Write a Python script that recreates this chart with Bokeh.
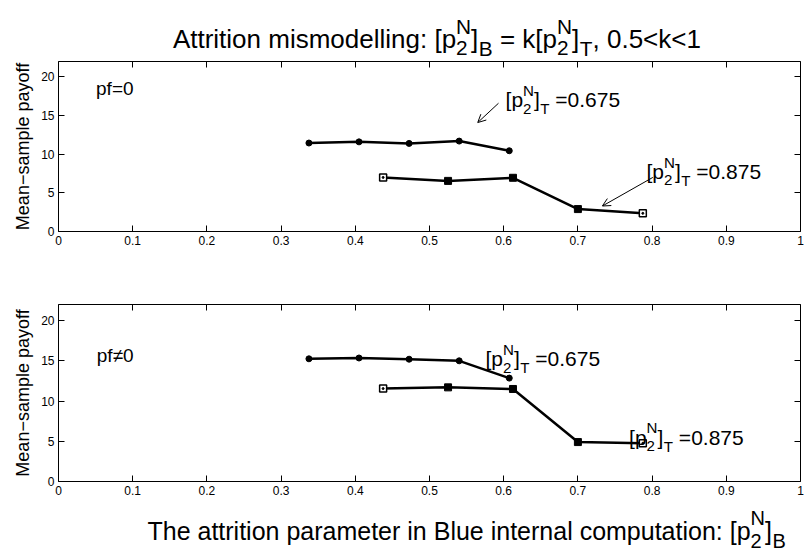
from bokeh.plotting import figure
from bokeh.layouts import column
from bokeh.models import Label, Arrow, OpenHead, LinearAxis, Range1d, FixedTicker
from bokeh.embed import file_html
from bokeh.resources import INLINE

# ---------------- data ----------------
x_ticks = [0, 0.1, 0.2, 0.3, 0.4, 0.5, 0.6, 0.7, 0.8, 0.9, 1.0]
x_tick_labels = ["0", "0.1", "0.2", "0.3", "0.4", "0.5", "0.6", "0.7", "0.8", "0.9", "1"]
y_ticks = [0, 5, 10, 15, 20]
y_tick_labels = ["0", "5", "10", "15", "20"]

# [p2N]_B values for the two true attrition parameters
x_b_675 = [0.3375, 0.405, 0.4725, 0.54, 0.6075]
x_b_875 = [0.4375, 0.525, 0.6125, 0.7, 0.7875]

# mean-sample payoff, pf = 0
payoff_pf0_675 = [11.45, 11.6, 11.4, 11.7, 10.45]
payoff_pf0_875 = [7.0, 6.55, 6.95, 2.9, 2.35]
# mean-sample payoff, pf != 0
payoff_pfn0_675 = [15.25, 15.35, 15.2, 15.0, 12.85]
payoff_pfn0_875 = [11.55, 11.7, 11.5, 4.9, 4.75]

FONT = "Liberation Sans"

# Arial / Liberation Sans advance widths (1/1000 em)
W = {' ': 278, 'A': 667, 'B': 667, 'N': 722, 'T': 611, 'M': 833,
     'a': 556, 'b': 556, 'c': 500, 'd': 556, 'e': 556, 'f': 278, 'g': 556,
     'h': 556, 'i': 222, 'k': 500, 'l': 222, 'm': 833, 'n': 556, 'o': 556,
     'p': 556, 'r': 333, 's': 500, 't': 278, 'u': 556, 'y': 500,
     '.': 278, ',': 278, ':': 278, '[': 278, ']': 278, '=': 584, '<': 584,
     '\u2260': 549, '\u2212': 584}


def tw(s, size):
    return sum(W.get(c, 556) for c in s) / 1000.0 * size


def rich(p, x, y, parts, size, ss=0.72, center=False, sup=0.45, sub=0.42):
    """Place a text with sub/superscripts from pieces, anchored at data (x, y)."""
    small = size * ss
    items = []
    ox = 0.0
    for kind, txt in parts:
        if kind == "n":
            lead = len(txt) - len(txt.lstrip(" "))
            ox += tw(" " * lead, size)
            body = txt.strip(" ")
            items.append((body, size, ox, 0.0))
            ox += tw(body, size)
        elif kind == "sub":
            items.append((txt, small, ox + 0.02 * size, -sub * size))
            ox += tw(txt, small) + 0.02 * size
        elif kind == "ss":
            a, b = txt
            items.append((a, small, ox, sup * size))
            items.append((b, small, ox, -sub * size))
            ox += max(tw(a, small), tw(b, small))
    shift = -ox / 2.0 if center else 0.0
    for txt, sz, dx, dy in items:
        p.add_layout(Label(x=x, y=y, x_offset=dx + shift, y_offset=dy, text=txt,
                           text_font=FONT, text_font_size=f"{sz:.1f}px",
                           text_color="black", text_align="left",
                           text_baseline="alphabetic"))


def text_fig(h):
    p = figure(frame_width=742, frame_height=h, x_range=Range1d(0, 1), y_range=Range1d(0, h),
               output_backend="svg", toolbar_location=None,
               x_axis_location=None, y_axis_location=None,
               min_border_left=58, min_border_right=4, min_border_top=0, min_border_bottom=0)
    p.xgrid.visible = False
    p.ygrid.visible = False
    p.outline_line_color = None
    return p


def make_fig(top, bottom, frame_h):
    p = figure(frame_width=742, frame_height=frame_h,
               x_range=Range1d(0, 1), y_range=Range1d(0, 22),
               output_backend="svg", toolbar_location=None,
               min_border_left=58, min_border_right=4,
               min_border_top=top, min_border_bottom=bottom,
               background_fill_color="white", border_fill_color="white")
    p.xgrid.visible = False
    p.ygrid.visible = False
    p.outline_line_color = None
    p.add_layout(LinearAxis(), "right")
    p.add_layout(LinearAxis(), "above")
    for ax in p.xaxis:
        ax.ticker = FixedTicker(ticks=x_ticks)
        ax.major_label_overrides = dict(zip(x_ticks, x_tick_labels))
    for ax in p.yaxis:
        ax.ticker = FixedTicker(ticks=y_ticks)
        ax.major_label_overrides = dict(zip(y_ticks, y_tick_labels))
    for ax in p.axis:
        ax.axis_line_color = "black"
        ax.axis_line_width = 1
        ax.major_tick_in = 6
        ax.major_tick_out = 0
        ax.major_tick_line_color = "black"
        ax.minor_tick_line_color = None
        ax.major_label_text_font = FONT
        ax.major_label_text_font_size = "12px"
        ax.major_label_text_color = "black"
        ax.major_label_standoff = 4
    p.right[0].major_label_overrides = {t: "" for t in y_ticks}
    p.above[0].major_label_overrides = {t: "" for t in x_ticks}
    p.right[0].major_label_standoff = 0
    p.above[0].major_label_standoff = 0
    p.yaxis[0].axis_label = "Mean\u2212sample payoff"
    p.yaxis[0].axis_label_text_font = FONT
    p.yaxis[0].axis_label_text_font_size = "18px"
    p.yaxis[0].axis_label_text_font_style = "normal"
    p.yaxis[0].axis_label_text_color = "black"
    p.yaxis[0].axis_label_standoff = 5
    return p


def draw_series(p, xs, ys, marker):
    p.line(xs, ys, line_color="black", line_width=2.5)
    if marker == "circle":
        p.scatter(xs, ys, marker="circle", size=6, fill_color="black", line_color="black")
    else:
        p.scatter(xs[1:-1], ys[1:-1], marker="square", size=7, fill_color="black", line_color="black")
        ends_x = [xs[0], xs[-1]]
        ends_y = [ys[0], ys[-1]]
        p.scatter(ends_x, ends_y, marker="square", size=7, fill_color="white",
                  line_color="black", line_width=1.5)
        p.scatter(ends_x, ends_y, marker="circle", size=2, fill_color="black", line_color="black")


def label_pT(p, x, y, val):
    rich(p, x, y, [("n", "[p"), ("ss", ("N", "2")), ("n", "]"), ("sub", "T"),
                   ("n", " =" + val)], 21)


# ---------------- title strip ----------------
title_fig = text_fig(60)
rich(title_fig, 0.51, 21.5,
     [("n", "Attrition mismodelling: [p"), ("ss", ("N", "2")), ("n", "]"), ("sub", "B"),
      ("n", " = k[p"), ("ss", ("N", "2")), ("n", "]"), ("sub", "T"), ("n", ", 0.5<k<1")],
     26, ss=0.8, center=True, sup=0.5, sub=0.36)

# ---------------- top panel (pf = 0) ----------------
top = make_fig(1, 34, 170)
draw_series(top, x_b_675, payoff_pf0_675, "circle")
draw_series(top, x_b_875, payoff_pf0_875, "square")
top.add_layout(Label(x=0.0506, y=18.45, text="pf=0", text_font=FONT, text_font_size="19px",
                     text_color="black", text_baseline="alphabetic"))
label_pT(top, 0.6025, 17.05, "0.675")
label_pT(top, 0.7925, 7.75, "0.875")
top.add_layout(Arrow(end=OpenHead(size=8, line_width=1, line_color="black"),
                     x_start=0.593, y_start=16.6, x_end=0.565, y_end=14.1,
                     line_width=1, line_color="black"))
top.add_layout(Arrow(end=OpenHead(size=8, line_width=1, line_color="black"),
                     x_start=0.801, y_start=7.0, x_end=0.733, y_end=3.3,
                     line_width=1, line_color="black"))

# ---------------- bottom panel (pf != 0) ----------------
bot = make_fig(39, 20, 177)
draw_series(bot, x_b_675, payoff_pfn0_675, "circle")
draw_series(bot, x_b_875, payoff_pfn0_875, "square")
bot.add_layout(Label(x=0.0516, y=15.65, text="pf\u22600", text_font=FONT, text_font_size="19px",
                     text_color="black", text_baseline="alphabetic"))
label_pT(bot, 0.5755, 15.25, "0.675")
label_pT(bot, 0.769, 5.5, "0.875")

# ---------------- x-axis title strip ----------------
xlab_fig = text_fig(49)
rich(xlab_fig, 0.55, 20,
     [("n", "The attrition parameter in Blue internal computation: [p"), ("ss", ("N", "2")),
      ("n", "]"), ("sub", "B")],
     25, ss=0.8, center=True, sup=0.5, sub=0.4)

layout = column(title_fig, top, bot, xlab_fig, spacing=0)
open("out.html", "w").write(file_html(layout, INLINE))
